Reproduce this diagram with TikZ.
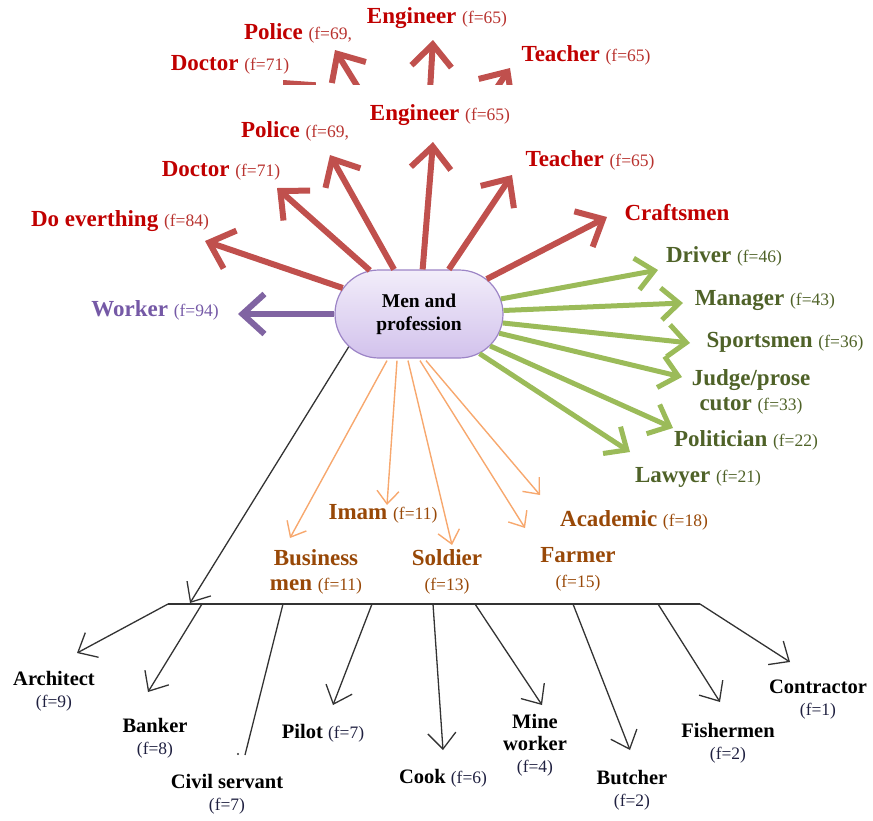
\documentclass[tikz,border=0pt]{standalone}
\usepackage{fontspec}
\setmainfont{Liberation Serif}
\usetikzlibrary{arrows.meta,shapes.misc}
\definecolor{redarr}{HTML}{C0504D}
\definecolor{redtxt}{HTML}{C00000}
\definecolor{redf}{HTML}{B8322E}
\definecolor{purarr}{HTML}{8064A2}
\definecolor{purtxt}{HTML}{7559A6}
\definecolor{grnarr}{HTML}{9BBB59}
\definecolor{grntxt}{HTML}{4F6228}
\definecolor{orarr}{HTML}{F7A86E}
\definecolor{ortxt}{HTML}{984807}
\definecolor{blkf}{HTML}{1F2040}
\definecolor{nodetop}{HTML}{F2EDFA}
\definecolor{nodebot}{HTML}{D2C2EC}
\definecolor{nodeline}{HTML}{9C84C6}
\newcommand{\fpartfont}{\fontsize{17.5}{19}\selectfont\mdseries}
\begin{document}
\begin{tikzpicture}[x=1pt,y=-1pt,
  lbl/.style={inner sep=0pt, align=center, font=\fontsize{23}{25}\selectfont\bfseries},
  blbl/.style={inner sep=0pt, align=center, font=\fontsize{20.5}{22}\selectfont\bfseries},
  redlbl/.style={lbl, text=redtxt},
  purlbl/.style={lbl, text=purtxt},
  grnlbl/.style={lbl, text=grntxt},
  orlbl/.style={lbl, text=ortxt},
  redarrow/.style={draw=redarr, line width=6pt, -{Straight Barb[length=22pt,width=40pt]}},
  purarrow/.style={draw=purarr, line width=6pt, -{Straight Barb[length=22pt,width=40pt]}},
  grnarrow/.style={draw=grnarr, line width=5pt, -{Straight Barb[length=18pt,width=32pt]}},
  orarrow/.style={draw=orarr, line width=1.4pt, -{Straight Barb[length=13pt,width=22pt]}},
  blkarrow/.style={draw=black!80, line width=1.3pt, -{Straight Barb[length=16pt,width=28pt]}},
  blkline/.style={draw=black!80, line width=1.3pt},
  centre/.style={rounded rectangle, draw=nodeline, line width=1.2pt,
    top color=nodetop, bottom color=nodebot, minimum width=168pt, minimum height=88pt,
    inner sep=0pt, align=center, font=\fontsize{19.5}{23}\selectfont\bfseries}
]
\useasboundingbox (0,0) rectangle (873,820);

% ---------- clipped upper copy ----------
\coordinate (tPolS) at (372,110);
\coordinate (tPolT) at (335,50);
\coordinate (tEngS) at (428,125);
\coordinate (tEngT) at (433,40);
\coordinate (tTeaS) at (462,140);
\coordinate (tTeaT) at (510,68);
\coordinate (tDocS) at (350,150);
\coordinate (tDocT) at (283,80);
\begin{scope}
  \clip (0,0) rectangle (873,84);
  \draw[redarrow] (tPolS) -- (tPolT);
  \draw[redarrow] (tEngS) -- (tEngT);
  \draw[redarrow] (tTeaS) -- (tTeaT);
  \draw[redarrow] (tDocS) -- (tDocT);
\end{scope}
\node[redlbl] (tEng) at (437,18) {Engineer {\fpartfont\color{redf}(f=65)}};
\node[redlbl] (tPol) at (298,33) {Police {\fpartfont\color{redf}(f=69,}};
\node[redlbl] (tDoc) at (230,65) {Doctor {\fpartfont\color{redf}(f=71)}};
\node[redlbl] (tTea) at (586,55) {Teacher {\fpartfont\color{redf}(f=65)}};

% ---------- centre ----------
\node[centre] (men) at (419,314) {Men and\\profession};

% ---------- red fan ----------
\node[redlbl] (doev) at (120,221) {Do everthing {\fpartfont\color{redf}(f=84)}};
\node[redlbl] (doc) at (221,171) {Doctor {\fpartfont\color{redf}(f=71)}};
\node[redlbl] (pol) at (295,131) {Police {\fpartfont\color{redf}(f=69,}};
\node[redlbl] (eng) at (440,115) {Engineer {\fpartfont\color{redf}(f=65)}};
\node[redlbl] (tea) at (590,160) {Teacher {\fpartfont\color{redf}(f=65)}};
\node[redlbl] (craft) at (677,213) {Craftsmen};
\coordinate (doevT) at (205,241);
\coordinate (docT) at (277,188);
\coordinate (polT) at (330,155);
\coordinate (engT) at (433,142);
\coordinate (teaT) at (512,175);
\coordinate (craftT) at (607,217);
\draw[redarrow] (men) -- (doevT);
\draw[redarrow] (men) -- (docT);
\draw[redarrow] (men) -- (polT);
\draw[redarrow] (men) -- (engT);
\draw[redarrow] (men) -- (teaT);
\draw[redarrow] (men) -- (craftT);

% ---------- purple ----------
\node[purlbl] (work) at (155,310) {Worker {\fpartfont(f=94)}};
\coordinate (workT) at (238,314);
\draw[purarrow] (men) -- (workT);

% ---------- green fan ----------
\node[grnlbl] (drv) at (724,256) {Driver {\fpartfont(f=46)}};
\node[grnlbl] (mgr) at (765,301) {Manager {\fpartfont(f=43)}};
\node[grnlbl] (spo) at (785,342) {Sportsmen {\fpartfont(f=36)}};
\node[grnlbl] (jud) at (751,392) {Judge/prose\\cutor {\fpartfont(f=33)}};
\node[grnlbl] (polit) at (746,440) {Politician {\fpartfont(f=22)}};
\node[grnlbl] (law) at (698,477) {Lawyer {\fpartfont(f=21)}};
\coordinate (drvT) at (658,270);
\coordinate (mgrT) at (683,303);
\coordinate (spoT) at (690,343);
\coordinate (judT) at (682,377);
\coordinate (politT) at (673,428);
\coordinate (lawT) at (630,452);
\draw[grnarrow] (men) -- (drvT);
\draw[grnarrow] (men) -- (mgrT);
\draw[grnarrow] (men) -- (spoT);
\draw[grnarrow] (men) -- (judT);
\draw[grnarrow] (men) -- (politT);
\draw[grnarrow] (men) -- (lawT);

% ---------- orange fan ----------
\node[orlbl] (aca) at (634,520) {Academic {\fpartfont(f=18)}};
\node[orlbl] (farm) at (578,569) {Farmer\\{\fpartfont(f=15)}};
\node[orlbl] (imam) at (383,514) {Imam {\fpartfont(f=11)}};
\node[orlbl] (bus) at (316,572) {Business\\men {\fpartfont(f=11)}};
\node[orlbl] (sol) at (447,572) {Soldier\\{\fpartfont(f=13)}};
\coordinate (busT) at (290,538);
\coordinate (imamT) at (387,505);
\coordinate (solT) at (452,545);
\coordinate (farmT) at (525,528);
\coordinate (acaT) at (540,495);
\draw[orarrow] ([xshift=-32pt,yshift=-2pt]men.south) -- (busT);
\draw[orarrow] ([xshift=-22pt,yshift=-2pt]men.south) -- (imamT);
\draw[orarrow] ([xshift=-11pt,yshift=-2pt]men.south) -- (solT);
\draw[orarrow] ([xshift=1pt,yshift=-2pt]men.south) -- (farmT);
\draw[orarrow] ([xshift=7pt,yshift=-2pt]men.south) -- (acaT);

% ---------- black tree ----------
\coordinate (barL) at (168,604);
\coordinate (barR) at (700,604);
\coordinate (barTip) at (190,603);
\draw[blkarrow] (men.205) -- (barTip);
\draw[blkline] (barL) -- (barR);

\coordinate (bBank) at (202,604);
\coordinate (bCiv) at (283,604);
\coordinate (bPil) at (372,604);
\coordinate (bCook) at (433,604);
\coordinate (bMine) at (475,604);
\coordinate (bButch) at (573,604);
\coordinate (bFish) at (658,604);

\coordinate (archT) at (77,653);
\coordinate (bankT) at (148,692);
\coordinate (civE) at (245,755);
\coordinate (civDot) at (238,754);
\coordinate (pilT) at (333,705);
\coordinate (cookT) at (443,750);
\coordinate (mineT) at (542,705);
\coordinate (butchT) at (630,750);
\coordinate (fishT) at (720,702);
\coordinate (contrT) at (790,662);

\draw[blkarrow] (barL) -- (archT);
\draw[blkarrow] (bBank) -- (bankT);
\draw[blkline] (bCiv) -- (civE);
\fill[black!80] (civDot) circle (1.1pt);
\draw[blkarrow] (bPil) -- (pilT);
\draw[blkarrow] (bCook) -- (cookT);
\draw[blkarrow] (bMine) -- (mineT);
\draw[blkarrow] (bButch) -- (butchT);
\draw[blkarrow] (bFish) -- (fishT);
\draw[blkarrow] (barR) -- (contrT);

\node[blbl] (arch) at (54,691) {Architect\\{\fpartfont\color{blkf}(f=9)}};
\node[blbl] (bank) at (155,738) {Banker\\{\fpartfont\color{blkf}(f=8)}};
\node[blbl] (civ) at (227,794) {Civil servant\\{\fpartfont\color{blkf}(f=7)}};
\node[blbl] (pil) at (323,733) {Pilot {\fpartfont\color{blkf}(f=7)}};
\node[blbl] (cook) at (443,778) {Cook {\fpartfont\color{blkf}(f=6)}};
\node[blbl] (mine) at (535,745) {Mine\\worker\\{\fpartfont\color{blkf}(f=4)}};
\node[blbl] (butch) at (632,790) {Butcher\\{\fpartfont\color{blkf}(f=2)}};
\node[blbl] (fish) at (728,743) {Fishermen\\{\fpartfont\color{blkf}(f=2)}};
\node[blbl] (contr) at (818,700) {Contractor\\{\fpartfont\color{blkf}(f=1)}};
\end{tikzpicture}
\end{document}
